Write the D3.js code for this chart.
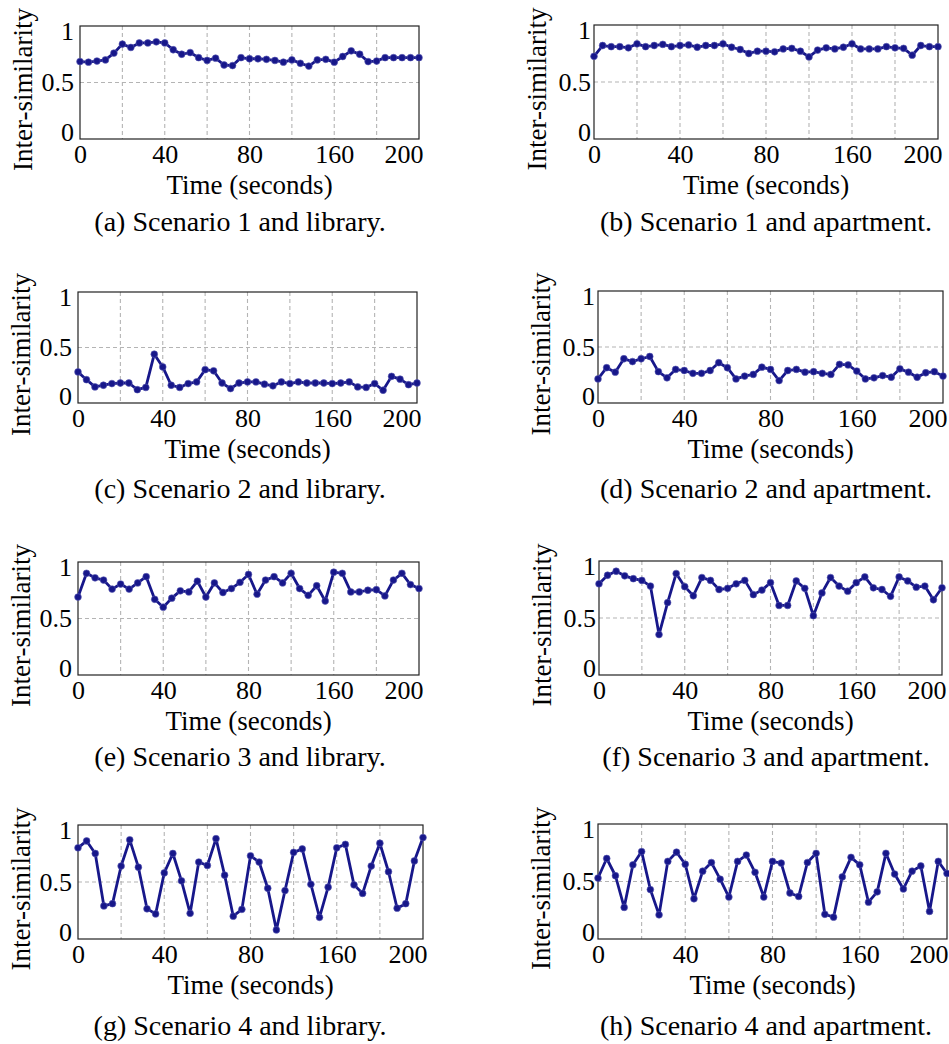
<!DOCTYPE html>
<html>
<head>
<meta charset="utf-8">
<script src="https://cdn.jsdelivr.net/npm/d3@7/dist/d3.min.js"></script>
<style>
  body { margin: 0; background: #fff; }
  svg text { font-family: "Liberation Serif", "Times New Roman", serif; fill: #000; }
</style>
</head>
<body>
<div id="chart"></div>
<script>
// sample times (seconds)
const times = [0, 5, 10, 15, 20, 25, 30, 35, 40, 45, 50, 55, 60, 65, 70, 75, 80, 85, 90, 95,
    100, 105, 110, 115, 120, 125, 130, 135, 140, 145, 150, 155, 160, 165, 170, 175, 180, 185, 190, 195, 200];

const xTickValues = [0, 50, 100, 150, 200];
const xTickLabels = ["0", "40", "80", "160", "200"];
const xGridValues = [25, 50, 75, 100, 125, 150, 175];
const yTickValues = [0, 0.5, 1];
const yTickLabels = ["0", "0.5", "1"];
const yGridValues = [0.5];

const captions = [
    "(a) Scenario 1 and library.", "(b) Scenario 1 and apartment.",
    "(c) Scenario 2 and library.", "(d) Scenario 2 and apartment.",
    "(e) Scenario 3 and library.", "(f) Scenario 3 and apartment.",
    "(g) Scenario 4 and library.", "(h) Scenario 4 and apartment."
];

const seriesA = [0.685, 0.68, 0.69, 0.70, 0.76, 0.84, 0.81, 0.85, 0.85, 0.86, 0.85, 0.79, 0.75, 0.765, 0.72, 0.695, 0.715, 0.655, 0.65, 0.72,
    0.71, 0.71, 0.705, 0.695, 0.68, 0.70, 0.67, 0.645, 0.70, 0.705, 0.68, 0.73, 0.78, 0.75, 0.685, 0.69, 0.72, 0.72, 0.72, 0.72, 0.72];
const seriesB = [0.725, 0.82, 0.81, 0.81, 0.80, 0.835, 0.81, 0.82, 0.83, 0.81, 0.82, 0.825, 0.805, 0.82, 0.82, 0.835, 0.805, 0.785, 0.75, 0.77,
    0.77, 0.765, 0.79, 0.795, 0.77, 0.72, 0.78, 0.80, 0.79, 0.805, 0.835, 0.79, 0.79, 0.79, 0.81, 0.80, 0.795, 0.735, 0.82, 0.81, 0.81];
const seriesC = [0.28, 0.21, 0.145, 0.16, 0.175, 0.18, 0.18, 0.12, 0.14, 0.44, 0.325, 0.16, 0.14, 0.175, 0.19, 0.30, 0.29, 0.18, 0.13, 0.18,
    0.19, 0.19, 0.17, 0.155, 0.19, 0.175, 0.19, 0.18, 0.18, 0.18, 0.175, 0.18, 0.19, 0.145, 0.14, 0.175, 0.115, 0.24, 0.215, 0.165, 0.18];
const seriesD = [0.215, 0.315, 0.275, 0.395, 0.37, 0.395, 0.415, 0.28, 0.225, 0.30, 0.29, 0.265, 0.265, 0.29, 0.36, 0.315, 0.215, 0.24, 0.255, 0.32,
    0.30, 0.20, 0.29, 0.30, 0.275, 0.28, 0.265, 0.255, 0.345, 0.34, 0.285, 0.215, 0.225, 0.245, 0.23, 0.305, 0.275, 0.23, 0.27, 0.28, 0.24];
const seriesE = [0.69, 0.90, 0.86, 0.84, 0.76, 0.805, 0.76, 0.815, 0.87, 0.67, 0.60, 0.68, 0.745, 0.735, 0.83, 0.69, 0.815, 0.73, 0.765, 0.82,
    0.89, 0.715, 0.84, 0.87, 0.815, 0.90, 0.765, 0.705, 0.79, 0.655, 0.91, 0.90, 0.735, 0.735, 0.75, 0.755, 0.70, 0.84, 0.90, 0.80, 0.765];
const seriesF = [0.80, 0.875, 0.91, 0.87, 0.845, 0.83, 0.78, 0.355, 0.635, 0.89, 0.775, 0.695, 0.855, 0.83, 0.75, 0.76, 0.80, 0.83, 0.705, 0.745,
    0.81, 0.61, 0.61, 0.825, 0.76, 0.52, 0.72, 0.855, 0.78, 0.735, 0.81, 0.86, 0.765, 0.75, 0.69, 0.86, 0.825, 0.77, 0.78, 0.66, 0.765];
const seriesG = [0.80, 0.86, 0.75, 0.29, 0.31, 0.64, 0.87, 0.63, 0.265, 0.22, 0.58, 0.75, 0.51, 0.225, 0.675, 0.645, 0.88, 0.56, 0.20, 0.26,
    0.73, 0.675, 0.445, 0.08, 0.425, 0.76, 0.79, 0.48, 0.19, 0.455, 0.80, 0.83, 0.475, 0.40, 0.64, 0.84, 0.59, 0.27, 0.31, 0.685, 0.89];
const seriesH = [0.53, 0.70, 0.55, 0.275, 0.645, 0.76, 0.43, 0.21, 0.675, 0.755, 0.65, 0.35, 0.59, 0.665, 0.52, 0.365, 0.675, 0.73, 0.58, 0.365,
    0.675, 0.66, 0.40, 0.37, 0.665, 0.745, 0.215, 0.19, 0.54, 0.71, 0.645, 0.32, 0.41, 0.745, 0.565, 0.435, 0.59, 0.635, 0.24, 0.675, 0.57];

const allSeries = [seriesA, seriesB, seriesC, seriesD, seriesE, seriesF, seriesG, seriesH];

// plot box of each panel (pixels) + caption position
const panels = [
    {left: 80, right: 419, top: 26, bottom: 139, capX: 240, capY: 231},
    {left: 594, right: 938, top: 25, bottom: 139, capX: 766, capY: 231},
    {left: 78, right: 417, top: 292, bottom: 403, capX: 240, capY: 498},
    {left: 598, right: 943, top: 291, bottom: 403, capX: 766, capY: 498},
    {left: 78, right: 419, top: 562, bottom: 675, capX: 240, capY: 766},
    {left: 599, right: 942, top: 561, bottom: 675, capX: 766, capY: 766},
    {left: 78, right: 423, top: 825, bottom: 939, capX: 240, capY: 1035},
    {left: 598, right: 947, top: 824, bottom: 939, capX: 766, capY: 1035}
];

const lineColor = "#17178a";
const W = 949, H = 1044;

const svg = d3.select("#chart").append("svg")
    .attr("width", W)
    .attr("height", H);

panels.forEach((p, i) => drawPanel(p, allSeries[i], captions[i], i % 2 === 1));

function drawPanel(p, values, caption, rightCol) {
    const x = d3.scaleLinear().domain([0, 200]).range([p.left, p.right]);
    const y = d3.scaleLinear().domain([0, 1]).range([p.bottom, p.top]);
    const g = svg.append("g");

    // dashed grid
    g.selectAll(".vgrid").data(xGridValues).join("line")
        .attr("x1", d => x(d)).attr("x2", d => x(d))
        .attr("y1", p.top).attr("y2", p.bottom)
        .attr("stroke", "#b4b4b4").attr("stroke-width", 1.1)
        .attr("stroke-dasharray", "4,3");
    g.selectAll(".hgrid").data(yGridValues).join("line")
        .attr("x1", p.left).attr("x2", p.right)
        .attr("y1", d => y(d)).attr("y2", d => y(d))
        .attr("stroke", "#b4b4b4").attr("stroke-width", 1.1)
        .attr("stroke-dasharray", "4,3");

    // frame
    g.append("rect")
        .attr("x", p.left).attr("y", p.top)
        .attr("width", p.right - p.left).attr("height", p.bottom - p.top)
        .attr("fill", "none").attr("stroke", "#222").attr("stroke-width", 1.2);

    // axes
    const xAxis = g.append("g")
        .attr("transform", `translate(0,${p.bottom})`)
        .call(d3.axisBottom(x).tickValues(xTickValues)
            .tickFormat((d, i) => xTickLabels[i]).tickSize(0).tickPadding(6));
    xAxis.select(".domain").remove();
    xAxis.selectAll("text").style("font-size", "26px").attr("fill", "#000");
    // last label sits right-aligned at the frame edge
    xAxis.selectAll("text").filter(d => d === 200)
        .attr("text-anchor", "end").attr("x", Math.min(4, W - p.right - 1));

    const yAxis = g.append("g")
        .attr("transform", `translate(${p.left},0)`)
        .call(d3.axisLeft(y).tickValues(yTickValues)
            .tickFormat((d, i) => yTickLabels[i]).tickSize(0).tickPadding(rightCol ? 3 : 6));
    yAxis.select(".domain").remove();
    yAxis.selectAll("text").style("font-size", "26px").attr("fill", "#000");
    yAxis.selectAll("text").filter(d => d === 1).attr("dy", "0.5em");
    yAxis.selectAll("text").filter(d => d === 0).attr("dy", "0.05em");

    // axis titles
    g.append("text")
        .attr("x", (p.left + p.right) / 2)
        .attr("y", p.bottom + 55)
        .attr("text-anchor", "middle")
        .style("font-size", "27px")
        .text("Time (seconds)");
    g.append("text")
        .attr("transform", `translate(${p.left - 48},${(p.top + p.bottom) / 2 + 7}) rotate(-90)`)
        .attr("text-anchor", "middle")
        .style("font-size", "27px")
        .text("Inter-similarity");

    // series
    const pts = values.map((v, i) => ({t: times[i], v}));
    g.append("path")
        .datum(pts)
        .attr("fill", "none")
        .attr("stroke", lineColor)
        .attr("stroke-width", 2.8)
        .attr("stroke-linejoin", "round")
        .attr("d", d3.line().x(d => x(d.t)).y(d => y(d.v)));
    g.selectAll(".dot").data(pts).join("circle")
        .attr("cx", d => x(d.t))
        .attr("cy", d => y(d.v))
        .attr("r", 3.4)
        .attr("fill", lineColor)
        .attr("stroke", "#5a5ab4")
        .attr("stroke-width", 0.6);

    // caption
    g.append("text")
        .attr("x", p.capX)
        .attr("y", p.capY)
        .attr("text-anchor", "middle")
        .style("font-size", "28px")
        .text(caption);
}
</script>
</body>
</html>
